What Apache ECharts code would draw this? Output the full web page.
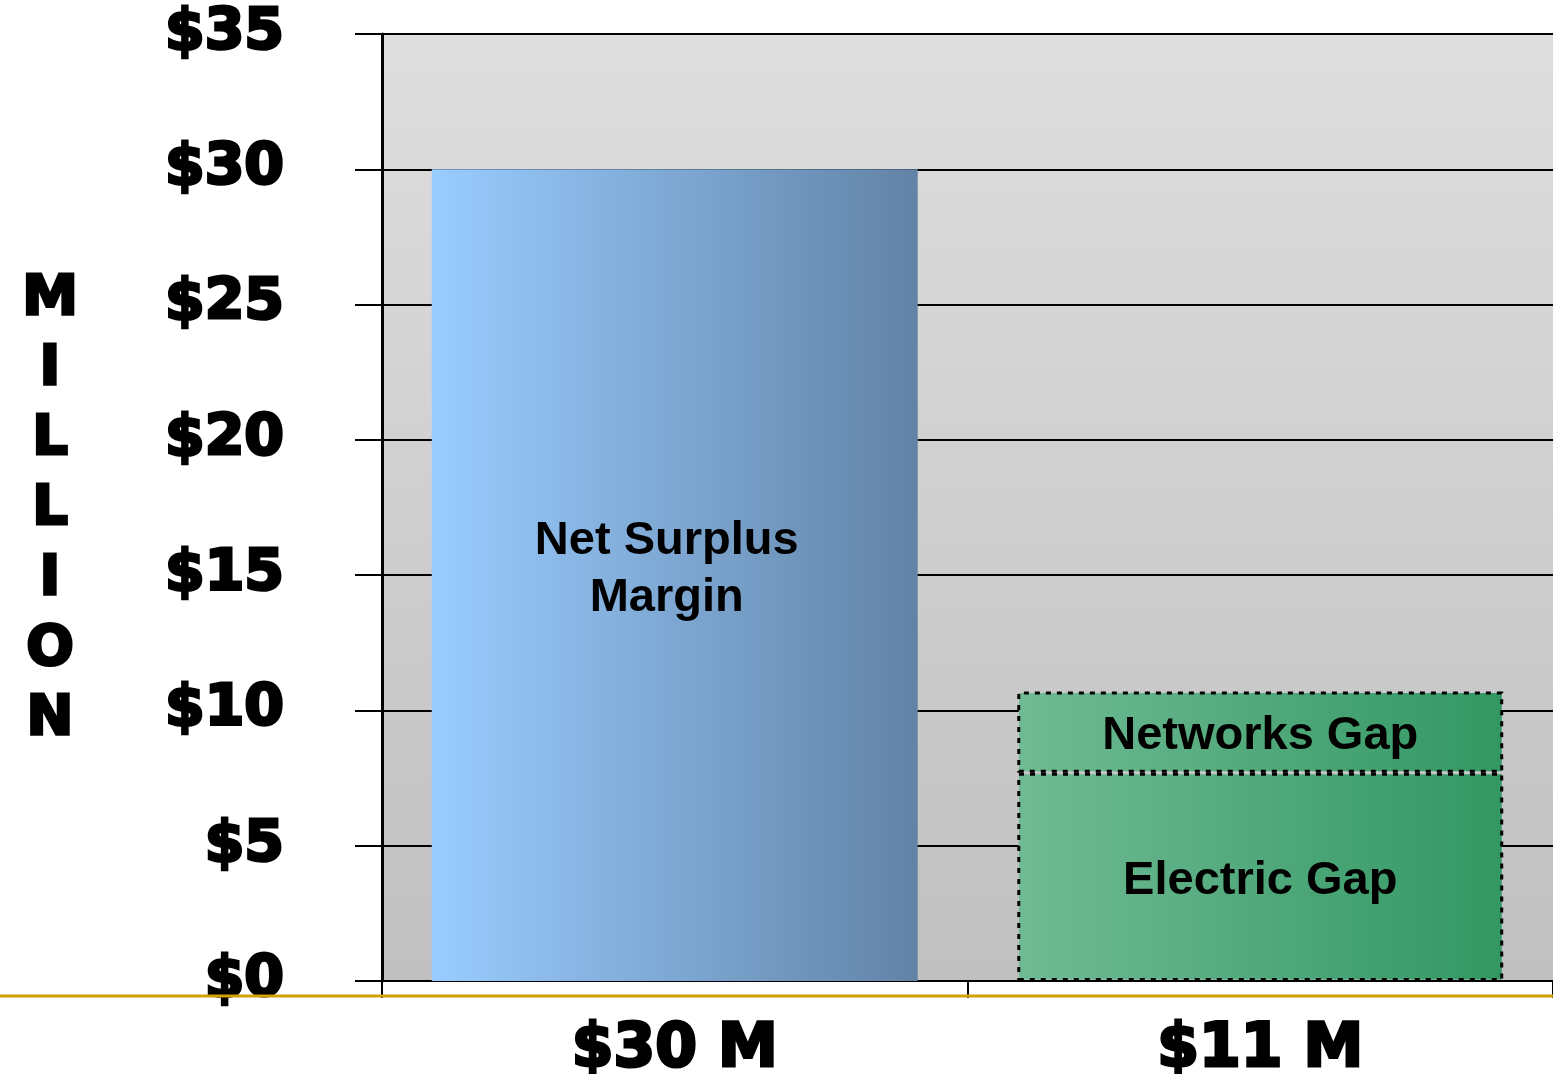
<!DOCTYPE html>
<html>
<head>
<meta charset="utf-8">
<script src="https://cdn.jsdelivr.net/npm/echarts@6/dist/echarts.min.js"></script>
<style>
html,body{margin:0;padding:0;background:#fff;}
#chart{width:1553px;height:1074px;}
</style>
</head>
<body>
<div id="chart"></div>
<script>
var categories = ['$30 M', '$11 M'];
var netSurplus = [30, '-'];
var electricGap = ['-', 7.7];
var networksGap = ['-', 3.0];
var yTicks = [0, 5, 10, 15, 20, 25, 30, 35];
var axisTitle = 'MILLION';

var chart = echarts.init(document.getElementById('chart'));
var heavy = 'DejaVu Sans';
var labelFont = '"Liberation Sans", Arial, sans-serif';

var greenFill = new echarts.graphic.LinearGradient(0, 0, 1, 0, [
  {offset: 0, color: '#70bb94'},
  {offset: 1, color: '#329763'}
]);

var option = {
  animation: false,
  grid: {
    left: 382, right: 0, top: 34, bottom: 93,
    containLabel: false, outerBoundsMode: 'none',
    show: true, borderWidth: 0,
    backgroundColor: new echarts.graphic.LinearGradient(0, 0, 0, 1, [
      {offset: 0, color: '#dedede'},
      {offset: 1, color: '#c0c0c0'}
    ])
  },
  xAxis: {
    type: 'category',
    data: categories,
    axisLine: {lineStyle: {color: '#000', width: 2}},
    axisTick: {show: true, length: 17, lineStyle: {color: '#000', width: 2}},
    axisLabel: {
      color: '#000', fontFamily: heavy, fontWeight: 'bold', fontSize: 60,
      textBorderColor: '#000', textBorderWidth: 3,
      margin: 39
    },
    splitLine: {show: false}
  },
  yAxis: {
    type: 'value',
    min: yTicks[0], max: yTicks[yTicks.length - 1], interval: 5,
    axisLine: {show: true, lineStyle: {color: '#000', width: 3}},
    axisTick: {show: true, length: 27, lineStyle: {color: '#000', width: 2}},
    axisLabel: {
      color: '#000', fontFamily: heavy, fontWeight: 'bold', fontSize: 57,
      textBorderColor: '#000', textBorderWidth: 3,
      margin: 98,
      formatter: function (v) { return '$' + v; }
    },
    splitLine: {show: true, lineStyle: {color: '#000', width: 2}}
  },
  series: [
    {
      name: 'Net Surplus Margin',
      type: 'bar',
      stack: 'all',
      data: netSurplus,
      barCategoryGap: '17%',
      itemStyle: {
        color: new echarts.graphic.LinearGradient(0, 0, 1, 0, [
          {offset: 0, color: '#99ccff'},
          {offset: 1, color: '#6283a6'}
        ])
      },
      label: {
        show: true, position: 'inside', formatter: 'Net Surplus\nMargin',
        color: '#000', fontFamily: labelFont, fontWeight: 'bold', fontSize: 47,
        lineHeight: 57, offset: [-8, -6]
      }
    },
    {
      name: 'Electric Gap',
      type: 'bar',
      stack: 'all',
      data: electricGap,
      itemStyle: {color: greenFill, borderColor: '#000', borderWidth: 3, borderType: [5, 6]},
      label: {
        show: true, position: 'inside', formatter: '{a}', offset: [0, 4],
        color: '#000', fontFamily: labelFont, fontWeight: 'bold', fontSize: 47
      }
    },
    {
      name: 'Networks Gap',
      type: 'bar',
      stack: 'all',
      data: networksGap,
      itemStyle: {color: greenFill, borderColor: '#000', borderWidth: 3, borderType: [5, 6]},
      label: {
        show: true, position: 'inside', formatter: '{a}', offset: [0, 4],
        color: '#000', fontFamily: labelFont, fontWeight: 'bold', fontSize: 47
      }
    }
  ],
  graphic: [
    {
      type: 'line', z: 1,
      shape: {x1: 0, y1: 996, x2: 1553, y2: 996},
      style: {stroke: '#d4a00a', lineWidth: 3}
    },
    {
      type: 'text', x: 50, y: 509,
      style: {
        text: axisTitle.split('').join('\n'),
        align: 'center', verticalAlign: 'middle',
        fontFamily: heavy, fontWeight: 'bold', fontSize: 56, lineHeight: 70,
        fill: '#000', stroke: '#000', lineWidth: 3
      }
    }
  ]
};
chart.setOption(option);
</script>
</body>
</html>
